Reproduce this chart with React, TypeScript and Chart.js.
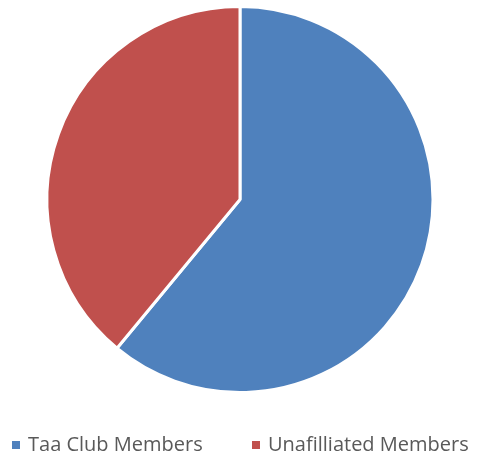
import React, { useEffect, useRef } from "react";
import { Chart, registerables } from "chart.js";

Chart.register(...registerables);

const categories = ["Taa Club Members", "Unafilliated Members"];
const values = [61, 39];
const colors = ["#4F81BD", "#C0504D"];
const legendX = [12, 252];

const legendPlugin = {
  id: "bottomLegend",
  afterDraw(chart: any) {
    const ctx = chart.ctx;
    ctx.save();
    ctx.font = "20px 'Open Sans'";
    ctx.fillStyle = "#595959";
    ctx.textBaseline = "middle";
    ctx.textAlign = "left";
    const labels = chart.data.labels as string[];
    const bg = chart.data.datasets[0].backgroundColor as string[];
    const y = 445;
    labels.forEach((t, i) => {
      ctx.fillStyle = bg[i];
      ctx.fillRect(legendX[i], y - 4, 8, 8);
      ctx.fillStyle = "#595959";
      ctx.fillText(t, legendX[i] + 16, y);
    });
    ctx.restore();
  },
};

export default function App() {
  const ref = useRef<HTMLCanvasElement | null>(null);
  useEffect(() => {
    document.body.style.margin = "0";
    if (!ref.current) return;
    const chart = new Chart(ref.current, {
      type: "pie",
      data: {
        labels: categories,
        datasets: [
          {
            data: values,
            backgroundColor: colors,
            borderColor: "#FFFFFF",
            borderWidth: 3,
          },
        ],
      },
      options: {
        animation: false,
        responsive: false,
        layout: { padding: { top: 5, bottom: 65, left: 0, right: 3 } },
        plugins: {
          tooltip: { enabled: false },
          legend: { display: false },
        },
      },
      plugins: [legendPlugin],
    });
    return () => chart.destroy();
  }, []);
  return (
    <div style={{ position: "fixed", left: 0, top: 0, width: 483, height: 459 }}>
      <canvas ref={ref} width={483} height={459} style={{ width: 483, height: 459 }} />
    </div>
  );
}
